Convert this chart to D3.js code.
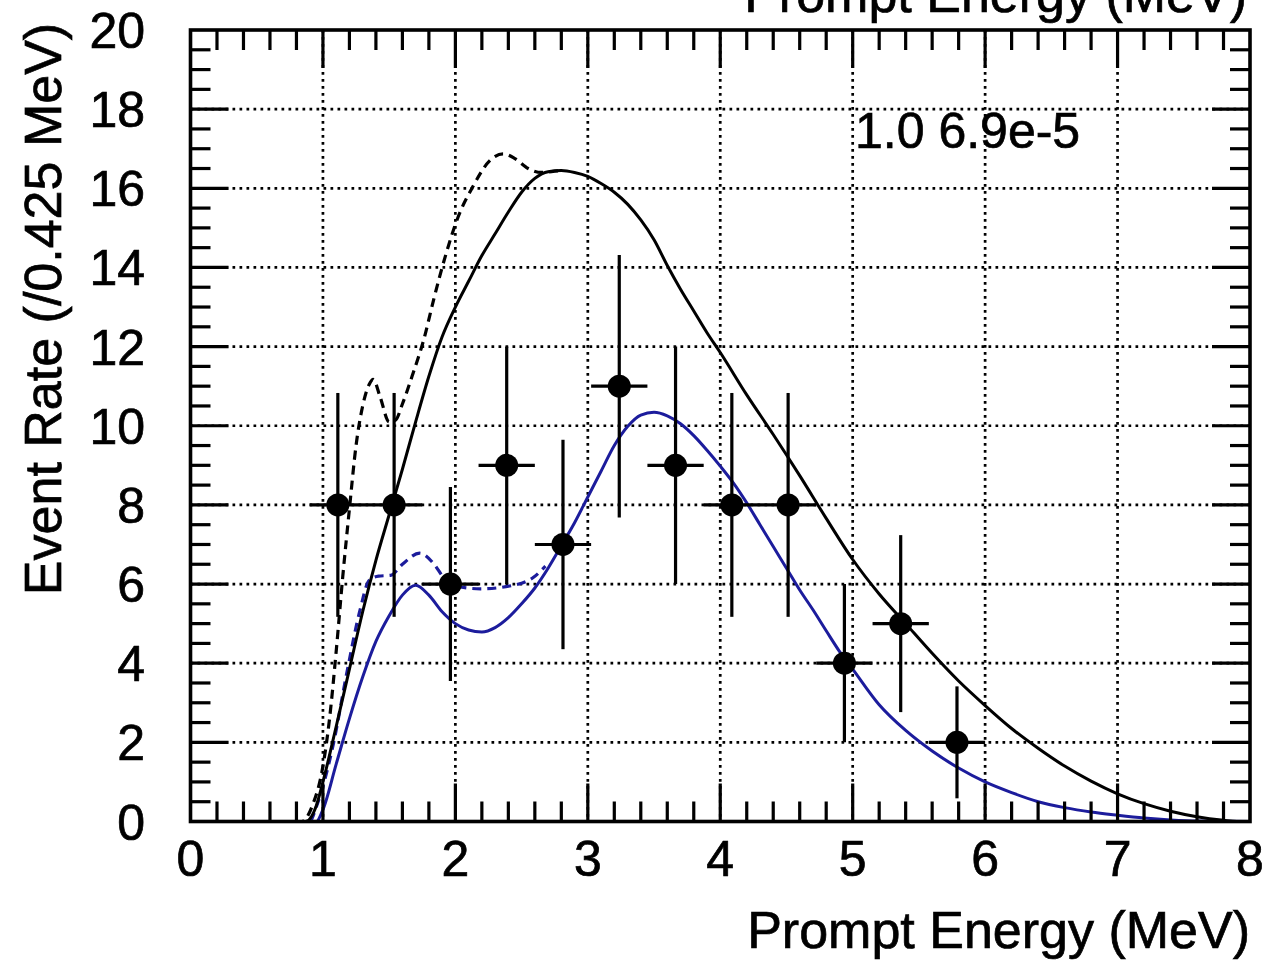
<!DOCTYPE html>
<html>
<head>
<meta charset="utf-8">
<script src="https://cdn.jsdelivr.net/npm/d3@7"></script>
<style>
  html, body { margin: 0; padding: 0; background: #ffffff; }
  svg { display: block; }
  text { font-family: "Liberation Sans", Arial, Helvetica, sans-serif; fill: #000; stroke: #000; stroke-width: 0.7px; }
</style>
</head>
<body>
<svg id="chart" width="1269" height="964"></svg>
<script>
// Measured spectrum: bin centres (MeV), counts per 0.425 MeV bin
const binCenters = [1.1125, 1.5375, 1.9625, 2.3875, 2.8125, 3.2375, 3.6625, 4.0875, 4.5125, 4.9375, 5.3625, 5.7875];
const counts     = [8, 8, 6, 9, 7, 11, 9, 8, 8, 4, 5, 2];
const binWidth   = 0.425;

// Expected spectrum without oscillation (solid black) and its variant (dashed black)
const noOscSolid = [[0,0],[0.87,0],[0.95,0.4],[1.0,1.0],[1.1,2.4],[1.2,3.85],[1.3,5.3],[1.4,6.6],[1.5,7.75],[1.6,8.9],[1.7,10.1],[1.8,11.25],[1.9,12.25],[2.0,13.0],[2.1,13.65],[2.2,14.3],[2.3,14.85],[2.4,15.4],[2.5,15.9],[2.6,16.25],[2.7,16.42],[2.8,16.45],[2.9,16.4],[3.0,16.3],[3.1,16.12],[3.2,15.9],[3.3,15.6],[3.4,15.2],[3.5,14.7],[3.6,14.05],[3.7,13.45],[3.8,12.9],[3.9,12.35],[4.0,11.85],[4.2,10.78],[4.4,9.78],[4.6,8.74],[4.8,7.66],[5.0,6.62],[5.2,5.75],[5.4,5.0],[5.6,4.25],[5.8,3.55],[6.0,2.93],[6.2,2.35],[6.4,1.85],[6.6,1.4],[6.8,1.02],[7.0,0.7],[7.2,0.45],[7.4,0.26],[7.6,0.12],[7.8,0.03],[7.9,0],[8,0]];
const noOscDashed = [[0,0],[0.84,0],[0.92,0.4],[1.0,1.4],[1.05,2.6],[1.1,4.3],[1.15,6.2],[1.2,7.9],[1.25,9.5],[1.3,10.5],[1.35,11.05],[1.38,11.17],[1.43,10.75],[1.5,10.1],[1.55,10.15],[1.6,10.55],[1.68,11.32],[1.76,12.16],[1.84,13.24],[1.93,14.35],[2.02,15.27],[2.13,16.03],[2.26,16.7],[2.36,16.87],[2.45,16.75],[2.55,16.5],[2.65,16.4],[2.75,16.43],[2.8,16.45]];

// Best-fit oscillated spectrum (solid blue) and its variant (dashed blue)
const oscSolid = [[0,0],[0.95,0],[1.0,0.3],[1.1,1.45],[1.2,2.6],[1.3,3.65],[1.4,4.55],[1.5,5.2],[1.6,5.72],[1.7,5.97],[1.8,5.72],[1.9,5.3],[2.0,5.0],[2.1,4.84],[2.2,4.79],[2.3,4.9],[2.4,5.15],[2.5,5.5],[2.6,5.9],[2.7,6.4],[2.8,6.97],[2.9,7.55],[3.0,8.2],[3.1,8.85],[3.2,9.5],[3.3,9.98],[3.4,10.27],[3.5,10.34],[3.6,10.25],[3.7,10.05],[3.8,9.75],[3.9,9.38],[4.0,8.98],[4.1,8.55],[4.2,8.05],[4.3,7.5],[4.4,6.95],[4.5,6.4],[4.6,5.85],[4.7,5.35],[4.8,4.82],[4.9,4.3],[5.0,3.85],[5.2,2.95],[5.4,2.3],[5.6,1.78],[5.8,1.35],[6.0,1.0],[6.2,0.73],[6.4,0.5],[6.6,0.35],[6.8,0.24],[7.0,0.16],[7.2,0.09],[7.4,0.04],[7.6,0.01],[8,0]];
const oscDashed = [[0,0],[0.9,0],[0.95,0.37],[1.08,1.98],[1.18,3.75],[1.28,5.34],[1.35,6.1],[1.42,6.2],[1.51,6.22],[1.6,6.5],[1.73,6.78],[1.84,6.5],[1.91,6.17],[2.0,5.95],[2.19,5.88],[2.44,5.97],[2.59,6.17],[2.68,6.45]];

// Axis ticks and labels
const xTicks = [0, 1, 2, 3, 4, 5, 6, 7, 8];
const yTicks = [0, 2, 4, 6, 8, 10, 12, 14, 16, 18, 20];
const xTitle = "Prompt Energy (MeV)";
const yTitle = "Event Rate (/0.425 MeV)";
const annotation = "1.0 6.9e-5";

const svg = d3.select("#chart");
const plotL = 190.5, plotR = 1250, plotT = 30, plotB = 821.5;

const x = d3.scaleLinear().domain([0, 8]).range([plotL, plotR]);
const y = d3.scaleLinear().domain([0, 20]).range([plotB, plotT]);

const blue = "#1c1c9c";

// dotted grid
const grid = svg.append("g")
  .attr("stroke", "#000").attr("stroke-width", 2.7)
  .attr("stroke-dasharray", "2.7,4.3");
grid.selectAll("line.v").data(xTicks.slice(1, -1)).join("line")
  .attr("x1", d => x(d)).attr("x2", d => x(d))
  .attr("y1", plotT).attr("y2", plotB);
grid.selectAll("line.h").data(yTicks.slice(1, -1)).join("line")
  .attr("x1", plotL).attr("x2", plotR)
  .attr("y1", d => y(d)).attr("y2", d => y(d));

// curves
const line = d3.line().x(d => x(d[0])).y(d => y(d[1])).curve(d3.curveMonotoneX);
svg.append("path").datum(oscSolid).attr("d", line)
  .attr("fill", "none").attr("stroke", blue).attr("stroke-width", 3);
svg.append("path").datum(oscDashed).attr("d", line)
  .attr("fill", "none").attr("stroke", blue).attr("stroke-width", 3.2)
  .attr("stroke-dasharray", "9,6");
svg.append("path").datum(noOscSolid).attr("d", line)
  .attr("fill", "none").attr("stroke", "#000").attr("stroke-width", 3);
svg.append("path").datum(noOscDashed).attr("d", line)
  .attr("fill", "none").attr("stroke", "#000").attr("stroke-width", 3.2)
  .attr("stroke-dasharray", "9,6");

// data points with statistical error bars
const pts = binCenters.map((c, i) => ({ c, n: counts[i], e: Math.sqrt(counts[i]) }));
const dg = svg.append("g");
dg.selectAll("line.ex").data(pts).join("line")
  .attr("x1", d => x(d.c - binWidth / 2)).attr("x2", d => x(d.c + binWidth / 2))
  .attr("y1", d => y(d.n)).attr("y2", d => y(d.n))
  .attr("stroke", "#000").attr("stroke-width", 3.2);
dg.selectAll("line.ey").data(pts).join("line")
  .attr("x1", d => x(d.c)).attr("x2", d => x(d.c))
  .attr("y1", d => y(d.n - d.e)).attr("y2", d => y(d.n + d.e))
  .attr("stroke", "#000").attr("stroke-width", 3.2);
dg.selectAll("circle").data(pts).join("circle")
  .attr("cx", d => x(d.c)).attr("cy", d => y(d.n)).attr("r", 11.5)
  .attr("fill", "#000");

// frame with ticks on all four sides
const majorLen = 38, minorLen = 20;
const fr = svg.append("g").attr("stroke", "#000").attr("stroke-width", 3.2);
const xMinor = d3.range(0, 8.0001, 0.2).map(v => +v.toFixed(2));
const yMinor = d3.range(0, 20.0001, 0.5).map(v => +v.toFixed(2));
const isMajorX = v => Math.abs(v - Math.round(v)) < 1e-6;
const isMajorY = v => Math.abs(v / 2 - Math.round(v / 2)) < 1e-6;
fr.selectAll("line.bx").data(xMinor.slice(1, -1)).join("line")
  .attr("x1", d => x(d)).attr("x2", d => x(d))
  .attr("y1", plotB).attr("y2", d => plotB - (isMajorX(d) ? majorLen : minorLen));
fr.selectAll("line.tx").data(xMinor.slice(1, -1)).join("line")
  .attr("x1", d => x(d)).attr("x2", d => x(d))
  .attr("y1", plotT).attr("y2", d => plotT + (isMajorX(d) ? majorLen : minorLen));
fr.selectAll("line.ly").data(yMinor.slice(1, -1)).join("line")
  .attr("x1", plotL).attr("x2", d => plotL + (isMajorY(d) ? majorLen : minorLen))
  .attr("y1", d => y(d)).attr("y2", d => y(d));
fr.selectAll("line.ry").data(yMinor.slice(1, -1)).join("line")
  .attr("x1", plotR).attr("x2", d => plotR - (isMajorY(d) ? majorLen : minorLen))
  .attr("y1", d => y(d)).attr("y2", d => y(d));
svg.append("rect").attr("x", plotL).attr("y", plotT)
  .attr("width", plotR - plotL).attr("height", plotB - plotT)
  .attr("fill", "none").attr("stroke", "#000").attr("stroke-width", 3.6);

// tick labels
svg.append("g").selectAll("text").data(xTicks).join("text")
  .attr("x", d => x(d)).attr("y", 876)
  .attr("text-anchor", "middle").attr("font-size", 50)
  .text(d => d);
svg.append("g").selectAll("text").data(yTicks).join("text")
  .attr("x", 145).attr("y", d => y(d) + 18)
  .attr("text-anchor", "end").attr("font-size", 50)
  .text(d => d);

// axis titles (the title line is repeated, clipped, along the top edge)
svg.append("text").attr("x", 1250).attr("y", 948)
  .attr("text-anchor", "end").attr("font-size", 52).text(xTitle);
svg.append("text").attr("x", 1247).attr("y", 12)
  .attr("text-anchor", "end").attr("font-size", 52).text(xTitle);
svg.append("text")
  .attr("transform", "translate(61,309) rotate(-90)")
  .attr("text-anchor", "middle").attr("font-size", 52).text(yTitle);

// annotation
svg.append("text").attr("x", 855).attr("y", 148)
  .attr("font-size", 50).text(annotation);
</script>
</body>
</html>
